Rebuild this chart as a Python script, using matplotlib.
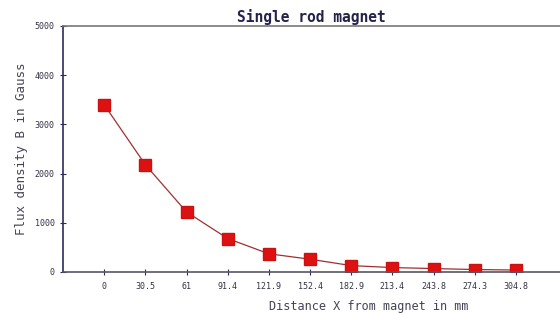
import numpy as np
import matplotlib
matplotlib.use("Agg")
import matplotlib.pyplot as plt

# Data
distance_labels = ["0", "30.5", "61", "91.4", "121.9", "152.4",
                   "182.9", "213.4", "243.8", "274.3", "304.8"]
flux_gauss = [3400, 2180, 1220, 680, 370, 260, 130, 90, 70, 50, 40]
y_ticks = [0, 1000, 2000, 3000, 4000, 5000]

navy = "#2b2b5e"
plt.rcParams["font.family"] = ["DejaVu Sans Mono"]

fig = plt.figure(figsize=(5.6, 3.13), dpi=100)
ax = fig.add_axes([0.1125, 0.131, 0.8875, 0.786])

x = np.arange(len(distance_labels))
ax.plot(x, flux_gauss, color="#a03030", linewidth=0.9, marker="s",
        markersize=8.5, markerfacecolor="#dd1111", markeredgecolor="#cc1111")

ax.set_xlim(-1, 11.07)
ax.set_ylim(0, 5000)
ax.set_xticks(x)
ax.set_xticklabels(distance_labels)
ax.set_yticks(y_ticks)
ax.set_yticklabels([str(v) for v in y_ticks])
ax.tick_params(direction="inout", length=5, width=0.8, color=navy,
               labelsize=6, labelcolor="#333344")
ax.tick_params(axis="x", pad=5)

ax.spines["right"].set_visible(False)
ax.spines["left"].set_color(navy)
ax.spines["bottom"].set_color("#555566")
ax.spines["top"].set_color("#777777")
for s in ["left", "bottom", "top"]:
    ax.spines[s].set_linewidth(1.2)

ax.set_title("Single rod magnet", fontsize=10.5, fontweight="bold",
             color="#22224a", pad=3)
ax.set_xlabel("Distance X from magnet in mm", fontsize=8.5, color="#444455",
              labelpad=3)
ax.xaxis.set_label_coords(0.616, -0.115)
ax.set_ylabel("Flux density B in Gauss", fontsize=9, color="#444455",
              labelpad=5)

fig.savefig("out.png", dpi=100)
